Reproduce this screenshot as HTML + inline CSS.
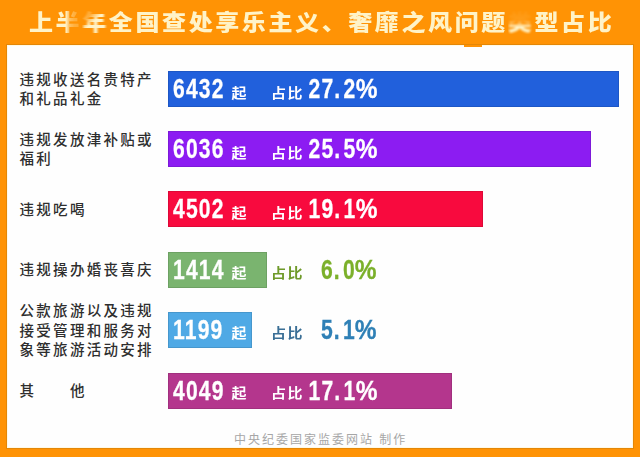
<!DOCTYPE html>
<html lang="zh-CN">
<head>
<meta charset="utf-8">
<style>
html,body{margin:0;padding:0;}
body{width:640px;height:457px;overflow:hidden;background:#ff9305;position:relative;
  font-family:"Liberation Sans","Noto Sans CJK SC",sans-serif;}
.title{position:absolute;left:29px;top:5.5px;white-space:nowrap;font-size:24px;font-weight:900;
  letter-spacing:2.6px;color:#fff3c8;line-height:34px;transform:scaleY(0.91);transform-origin:0 50%;}
.b1{filter:blur(0.6px);-webkit-mask-image:linear-gradient(90deg,#000 0%,#000 38%,rgba(0,0,0,.5) 50%,rgba(0,0,0,.3) 70%,rgba(0,0,0,.2) 100%);}
.b2{filter:blur(0.8px);-webkit-mask-image:linear-gradient(135deg,rgba(0,0,0,.15) 0%,rgba(0,0,0,.3) 25%,#000 45%,#000 75%,rgba(0,0,0,.55) 100%);}
.b3{filter:blur(1.2px);-webkit-mask-image:linear-gradient(180deg,rgba(0,0,0,.05) 0%,rgba(0,0,0,.1) 40%,#000 70%,#000 100%);}
.panel{position:absolute;left:7px;top:45px;width:626px;height:403px;background:#fefefe;box-shadow:0 0 0 1px rgba(205,125,10,.55),inset 0 0 0 1px #fff9e6;}
.notch{position:absolute;left:464px;top:45px;width:18px;height:2px;background:#ff9305;}
.row{position:absolute;left:0;width:640px;height:36px;}
.lab{position:absolute;left:19.5px;top:1.3px;height:36px;display:flex;align-items:center;font-size:14.5px;font-weight:500;color:#2e2e2e;letter-spacing:2.3px;line-height:19.5px;white-space:nowrap;}
.bar{position:absolute;left:168px;top:0;height:36px;box-shadow:inset 0 0 0 1px rgba(0,0,0,.10);}
.num{position:absolute;left:172.8px;top:-1px;font-size:28.5px;font-weight:700;color:#fff;white-space:nowrap;letter-spacing:1.6px;
  transform:scaleX(0.74);transform-origin:0 0;line-height:36px;-webkit-text-stroke-width:0.3px;}
.qi{position:absolute;left:231.5px;top:3.9px;font-size:15px;font-weight:700;color:#fff;line-height:36px;transform:scaleY(0.9);}
.zb{position:absolute;left:271px;top:3.9px;font-size:15px;font-weight:700;color:#fff;line-height:36px;letter-spacing:1.5px;transform:scaleY(0.9);}
.pct{position:absolute;right:261.5px;top:-1px;font-size:28.5px;font-weight:700;color:#fff;white-space:nowrap;letter-spacing:1.6px;
  transform:scaleX(0.74);transform-origin:100% 0;line-height:36px;-webkit-text-stroke-width:0.3px;}
.dot{margin:0 2.95px 0 -0.3px;}
.pc{display:inline-block;margin-left:3px;transform:scaleX(1.16);transform-origin:100% 50%;}
.foot{position:absolute;left:234px;top:430px;font-size:12px;color:#a6a6a6;letter-spacing:2px;white-space:nowrap;}

</style>
</head>
<body>
<div class="title">上<span class="b1">半</span><span class="b2">年</span>全国查处享乐主义、奢靡之风问题<span class="b3">类</span>型占比</div>
<div class="panel"></div><div class="notch"></div>
<div class="row" style="top:71.2px"><div class="lab">违规收送名贵特产<br>和礼品礼金</div><div class="bar" style="width:451px;background:#2160dc"></div><div class="num">6432</div><div class="qi">起</div><div class="zb">占比</div><div class="pct">27<span class="dot">.</span>2<span class="pc">%</span></div></div>
<div class="row" style="top:131.2px"><div class="lab">违规发放津补贴或<br>福利</div><div class="bar" style="width:423px;background:#8c1cf2"></div><div class="num">6036</div><div class="qi">起</div><div class="zb">占比</div><div class="pct">25<span class="dot">.</span>5<span class="pc">%</span></div></div>
<div class="row" style="top:191.3px"><div class="lab">违规吃喝</div><div class="bar" style="width:315px;background:#f80a3e"></div><div class="num">4502</div><div class="qi">起</div><div class="zb">占比</div><div class="pct">19<span class="dot">.</span>1<span class="pc">%</span></div></div>
<div class="row" style="top:251.8px"><div class="lab">违规操办婚丧喜庆</div><div class="bar" style="width:98.6px;background:#7ab46f"></div><div class="num">1414</div><div class="qi">起</div><div class="zb" style="color:#6f9a2a">占比</div><div class="pct" style="color:#7bb02a">6<span class="dot">.</span>0<span class="pc">%</span></div></div>
<div class="row" style="top:312.4px"><div class="lab">公款旅游以及违规<br>接受管理和服务对<br>象等旅游活动安排</div><div class="bar" style="width:84px;background:#4fa9e5"></div><div class="num">1199</div><div class="qi">起</div><div class="zb" style="color:#3b6f96">占比</div><div class="pct" style="color:#2f80b6">5<span class="dot">.</span>1<span class="pc">%</span></div></div>
<div class="row" style="top:372.5px"><div class="lab">其&#12288;&#12288;他</div><div class="bar" style="width:283.8px;background:#b4368d"></div><div class="num">4049</div><div class="qi">起</div><div class="zb">占比</div><div class="pct">17<span class="dot">.</span>1<span class="pc">%</span></div></div>
<div class="foot">中央纪委国家监委网站 制作</div>
</body>
</html>
